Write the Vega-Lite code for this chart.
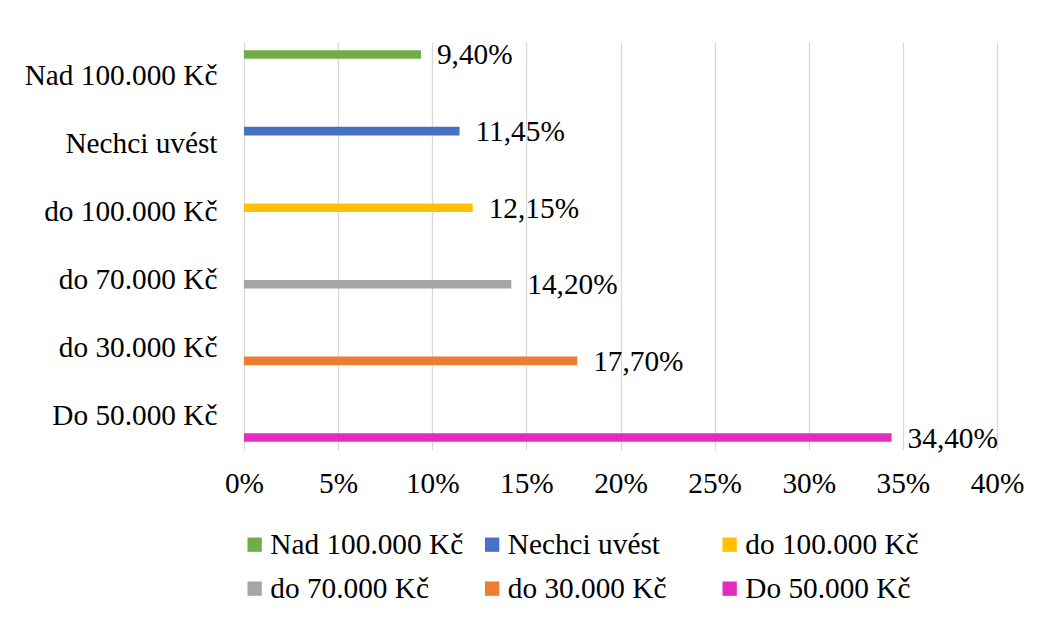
{
  "$schema": "https://vega.github.io/schema/vega-lite/v6.json",
  "autosize": {"type": "none"},
  "padding": {"left": 244, "top": 42, "right": 43, "bottom": 168},
  "width": 753,
  "height": 408,
  "background": "white",
  "config": {
    "locale": {"number": {"decimal": ",", "thousands": " ", "grouping": [3], "currency": ["", " Kč"]}},
    "view": {"stroke": null},
    "font": "Liberation Serif"
  },
  "data": {
    "values": [
      {"kategorie": "Nad 100.000 Kč", "podil": 0.094},
      {"kategorie": "Nechci uvést", "podil": 0.1145},
      {"kategorie": "do 100.000 Kč", "podil": 0.1215},
      {"kategorie": "do 70.000 Kč", "podil": 0.142},
      {"kategorie": "do 30.000 Kč", "podil": 0.177},
      {"kategorie": "Do 50.000 Kč", "podil": 0.344}
    ]
  },
  "encoding": {
    "y": {
      "field": "kategorie",
      "type": "nominal",
      "sort": ["Nad 100.000 Kč", "Nechci uvést", "do 100.000 Kč", "do 70.000 Kč", "do 30.000 Kč", "Do 50.000 Kč"],
      "scale": {"paddingInner": 0.24, "paddingOuter": 0.12},
      "axis": {
        "title": null,
        "domain": false,
        "ticks": false,
        "grid": false,
        "labelFont": "Liberation Serif",
        "labelFontSize": 29.3,
        "labelColor": "#000000",
        "labelPadding": 27,
        "labelLimit": 0
      }
    },
    "yOffset": {
      "field": "kategorie",
      "type": "nominal",
      "sort": ["Nad 100.000 Kč", "Nechci uvést", "do 100.000 Kč", "do 70.000 Kč", "do 30.000 Kč", "Do 50.000 Kč"],
      "scale": {"paddingInner": 0, "paddingOuter": 0}
    },
    "x": {
      "field": "podil",
      "type": "quantitative",
      "scale": {"domain": [0, 0.4], "nice": false},
      "axis": {
        "title": null,
        "format": ".0%",
        "values": [0, 0.05, 0.1, 0.15, 0.2, 0.25, 0.3, 0.35, 0.4],
        "domain": false,
        "ticks": false,
        "grid": true,
        "gridColor": "#D9D9D9",
        "gridWidth": 1.3,
        "labelFont": "Liberation Serif",
        "labelFontSize": 29.3,
        "labelColor": "#000000",
        "labelPadding": 19,
        "labelFlush": false
      }
    }
  },
  "layer": [
    {
      "mark": {"type": "bar"},
      "encoding": {
        "color": {
          "field": "kategorie",
          "type": "nominal",
          "sort": ["Nad 100.000 Kč", "Nechci uvést", "do 100.000 Kč", "do 70.000 Kč", "do 30.000 Kč", "Do 50.000 Kč"],
          "scale": {
            "domain": ["Nad 100.000 Kč", "Nechci uvést", "do 100.000 Kč", "do 70.000 Kč", "do 30.000 Kč", "Do 50.000 Kč"],
            "range": ["#70AD47", "#4472C4", "#FFC000", "#A5A5A5", "#ED7D31", "#E32BC0"]
          },
          "legend": {
            "title": null,
            "orient": "none",
            "legendX": -4,
            "legendY": 488,
            "padding": 0,
            "symbolOffset": 0,
            "direction": "horizontal",
            "columns": 3,
            "gridAlign": "all",
            "symbolType": "square",
            "symbolSize": 205,
            "symbolStrokeWidth": 0,
            "labelFont": "Liberation Serif",
            "labelFontSize": 29.3,
            "labelColor": "#000000",
            "labelOffset": 1,
            "labelLimit": 0,
            "columnPadding": 13.5,
            "rowPadding": 14
          }
        }
      }
    },
    {
      "mark": {"type": "text", "align": "left", "baseline": "middle", "dx": 16, "dy": 1, "fontSize": 29.3, "font": "Liberation Serif", "color": "#000000"},
      "encoding": {
        "text": {"field": "podil", "type": "quantitative", "format": ".2%"}
      }
    }
  ]
}
